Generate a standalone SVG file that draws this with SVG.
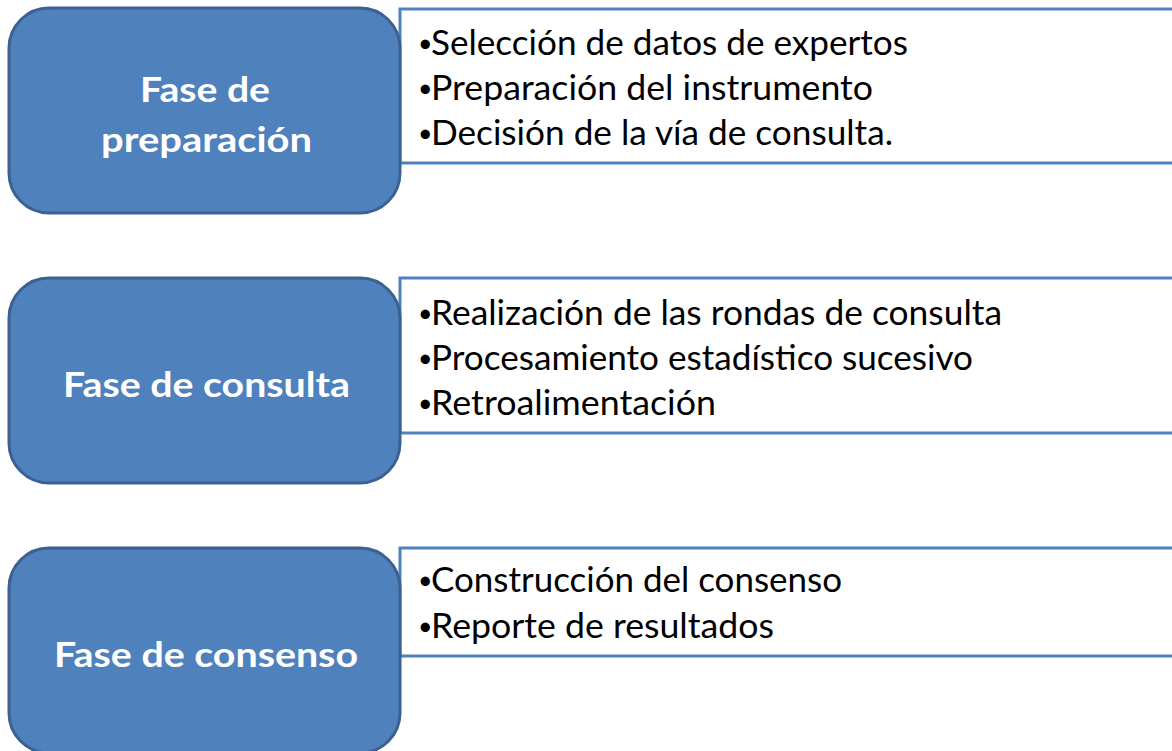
<svg xmlns="http://www.w3.org/2000/svg" width="1172" height="751" viewBox="0 0 1172 751">
<style>
.phase{fill:#4f81bd;stroke:#3b6192;stroke-width:3}
.list{fill:#ffffff;stroke:#4f81bd;stroke-width:3}
.lbl{font-family:Lato,"Open Sans","Liberation Sans",sans-serif;font-weight:bold;font-size:35px;fill:#ffffff}
.item{font-family:Lato,"Open Sans","Liberation Sans",sans-serif;font-size:35px;fill:#000000}
.bul{font-family:Lato,"Open Sans","Liberation Sans",sans-serif;font-size:25px;fill:#000000}
</style>
<rect width="1172" height="751" fill="#ffffff"/>
<g id="connectors"></g>
<g id="list1">
<rect class="list" x="400" y="9" width="790" height="154"/>
<text class="bul" x="418" y="52">•</text>
<text class="item" x="431" y="55" textLength="477" lengthAdjust="spacingAndGlyphs">Selección de datos de expertos</text>
<text class="bul" x="418" y="97">•</text>
<text class="item" x="431" y="100" textLength="442" lengthAdjust="spacingAndGlyphs">Preparación del instrumento</text>
<text class="bul" x="418" y="142">•</text>
<text class="item" x="431" y="145" textLength="462" lengthAdjust="spacingAndGlyphs">Decisión de la vía de consulta.</text>
</g>
<g id="phase1">
<rect class="phase" x="9" y="8" width="391" height="205" rx="40" ry="40"/>
<text class="lbl" x="140" y="102" textLength="130" lengthAdjust="spacingAndGlyphs">Fase de</text>
<text class="lbl" x="101" y="152" textLength="211" lengthAdjust="spacingAndGlyphs">preparación</text>
</g>
<g id="list2">
<rect class="list" x="400" y="278" width="790" height="155"/>
<text class="bul" x="418" y="322">•</text>
<text class="item" x="431" y="325" textLength="571" lengthAdjust="spacingAndGlyphs">Realización de las rondas de consulta</text>
<text class="bul" x="418" y="367">•</text>
<text class="item" x="431" y="370" textLength="542" lengthAdjust="spacingAndGlyphs">Procesamiento estadístico sucesivo</text>
<text class="bul" x="418" y="412">•</text>
<text class="item" x="431" y="415" textLength="285" lengthAdjust="spacingAndGlyphs">Retroalimentación</text>
</g>
<g id="phase2">
<rect class="phase" x="9" y="278" width="391" height="205" rx="40" ry="40"/>
<text class="lbl" x="63" y="397" textLength="287" lengthAdjust="spacingAndGlyphs">Fase de consulta</text>
</g>
<g id="list3">
<rect class="list" x="400" y="548" width="790" height="108"/>
<text class="bul" x="418" y="589">•</text>
<text class="item" x="431" y="592" textLength="411" lengthAdjust="spacingAndGlyphs">Construcción del consenso</text>
<text class="bul" x="418" y="635">•</text>
<text class="item" x="431" y="638" textLength="343" lengthAdjust="spacingAndGlyphs">Reporte de resultados</text>
</g>
<g id="phase3">
<rect class="phase" x="9" y="548" width="391" height="205" rx="40" ry="40"/>
<text class="lbl" x="54" y="667" textLength="304" lengthAdjust="spacingAndGlyphs">Fase de consenso</text>
</g>
</svg>
